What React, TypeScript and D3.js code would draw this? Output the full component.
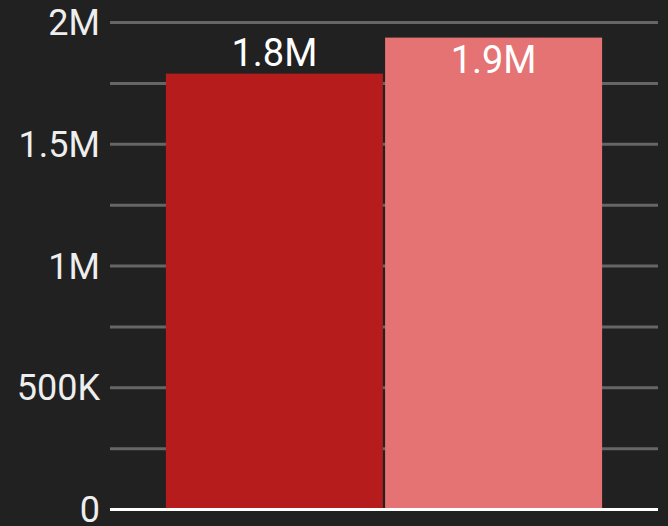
import React from "react";
import * as d3 from "d3";

const categories = ["A", "B"];
const values = [1790000, 1938000];
const labels = ["1.8M", "1.9M"];
const barColors = ["#B71C1C", "#E57373"];
const yTicks = [0, 500000, 1000000, 1500000, 2000000];
const yTickLabels = ["0", "500K", "1M", "1.5M", "2M"];
const gridTicks = [250000, 500000, 750000, 1000000, 1250000, 1500000, 1750000, 2000000];

const W = 668;
const H = 526;
const left = 110;
const right = 658;
const top = 22.5;
const bottom = 509.5;

export default function App() {
  const y = d3.scaleLinear().domain([0, 2000000]).range([bottom, top]);
  const x = d3
    .scaleBand<string>()
    .domain(categories)
    .range([left, right])
    .paddingInner(0.01)
    .paddingOuter(0.255);
  if (typeof document !== "undefined") {
    document.body.style.margin = "0";
    document.body.style.background = "#212121";
  }
  return (
    <svg
      width={W}
      height={H}
      style={{ position: "absolute", left: 0, top: 0, display: "block" }}
      fontFamily="Roboto, sans-serif"
    >
      <rect x={0} y={0} width={W} height={H} fill="#212121" />
      {gridTicks.map((t) => (
        <line
          key={t}
          x1={left}
          x2={right}
          y1={y(t)}
          y2={y(t)}
          stroke="#666666"
          strokeWidth={3}
        />
      ))}
      {categories.map((c, i) => {
        const bx = x(c) as number;
        const bw = x.bandwidth();
        const by = y(values[i]);
        const outside = by - 8 - 27 >= top;
        return (
          <g key={c}>
            <rect
              x={bx}
              y={by}
              width={bw}
              height={y(0) - by}
              fill={barColors[i]}
            />
            <text
              x={bx + bw / 2}
              y={outside ? by - 8 : by + 35}
              textAnchor="middle"
              fontSize={38}
              fill="#ffffff"
            >
              {labels[i]}
            </text>
          </g>
        );
      })}
      <line x1={left} x2={right} y1={y(0)} y2={y(0)} stroke="#ffffff" strokeWidth={3} />
      {yTicks.map((t, i) => (
        <text
          key={t}
          x={100}
          y={y(t)}
          dy="0.35em"
          textAnchor="end"
          fontSize={36}
          fill="#eeeeee"
        >
          {yTickLabels[i]}
        </text>
      ))}
    </svg>
  );
}
